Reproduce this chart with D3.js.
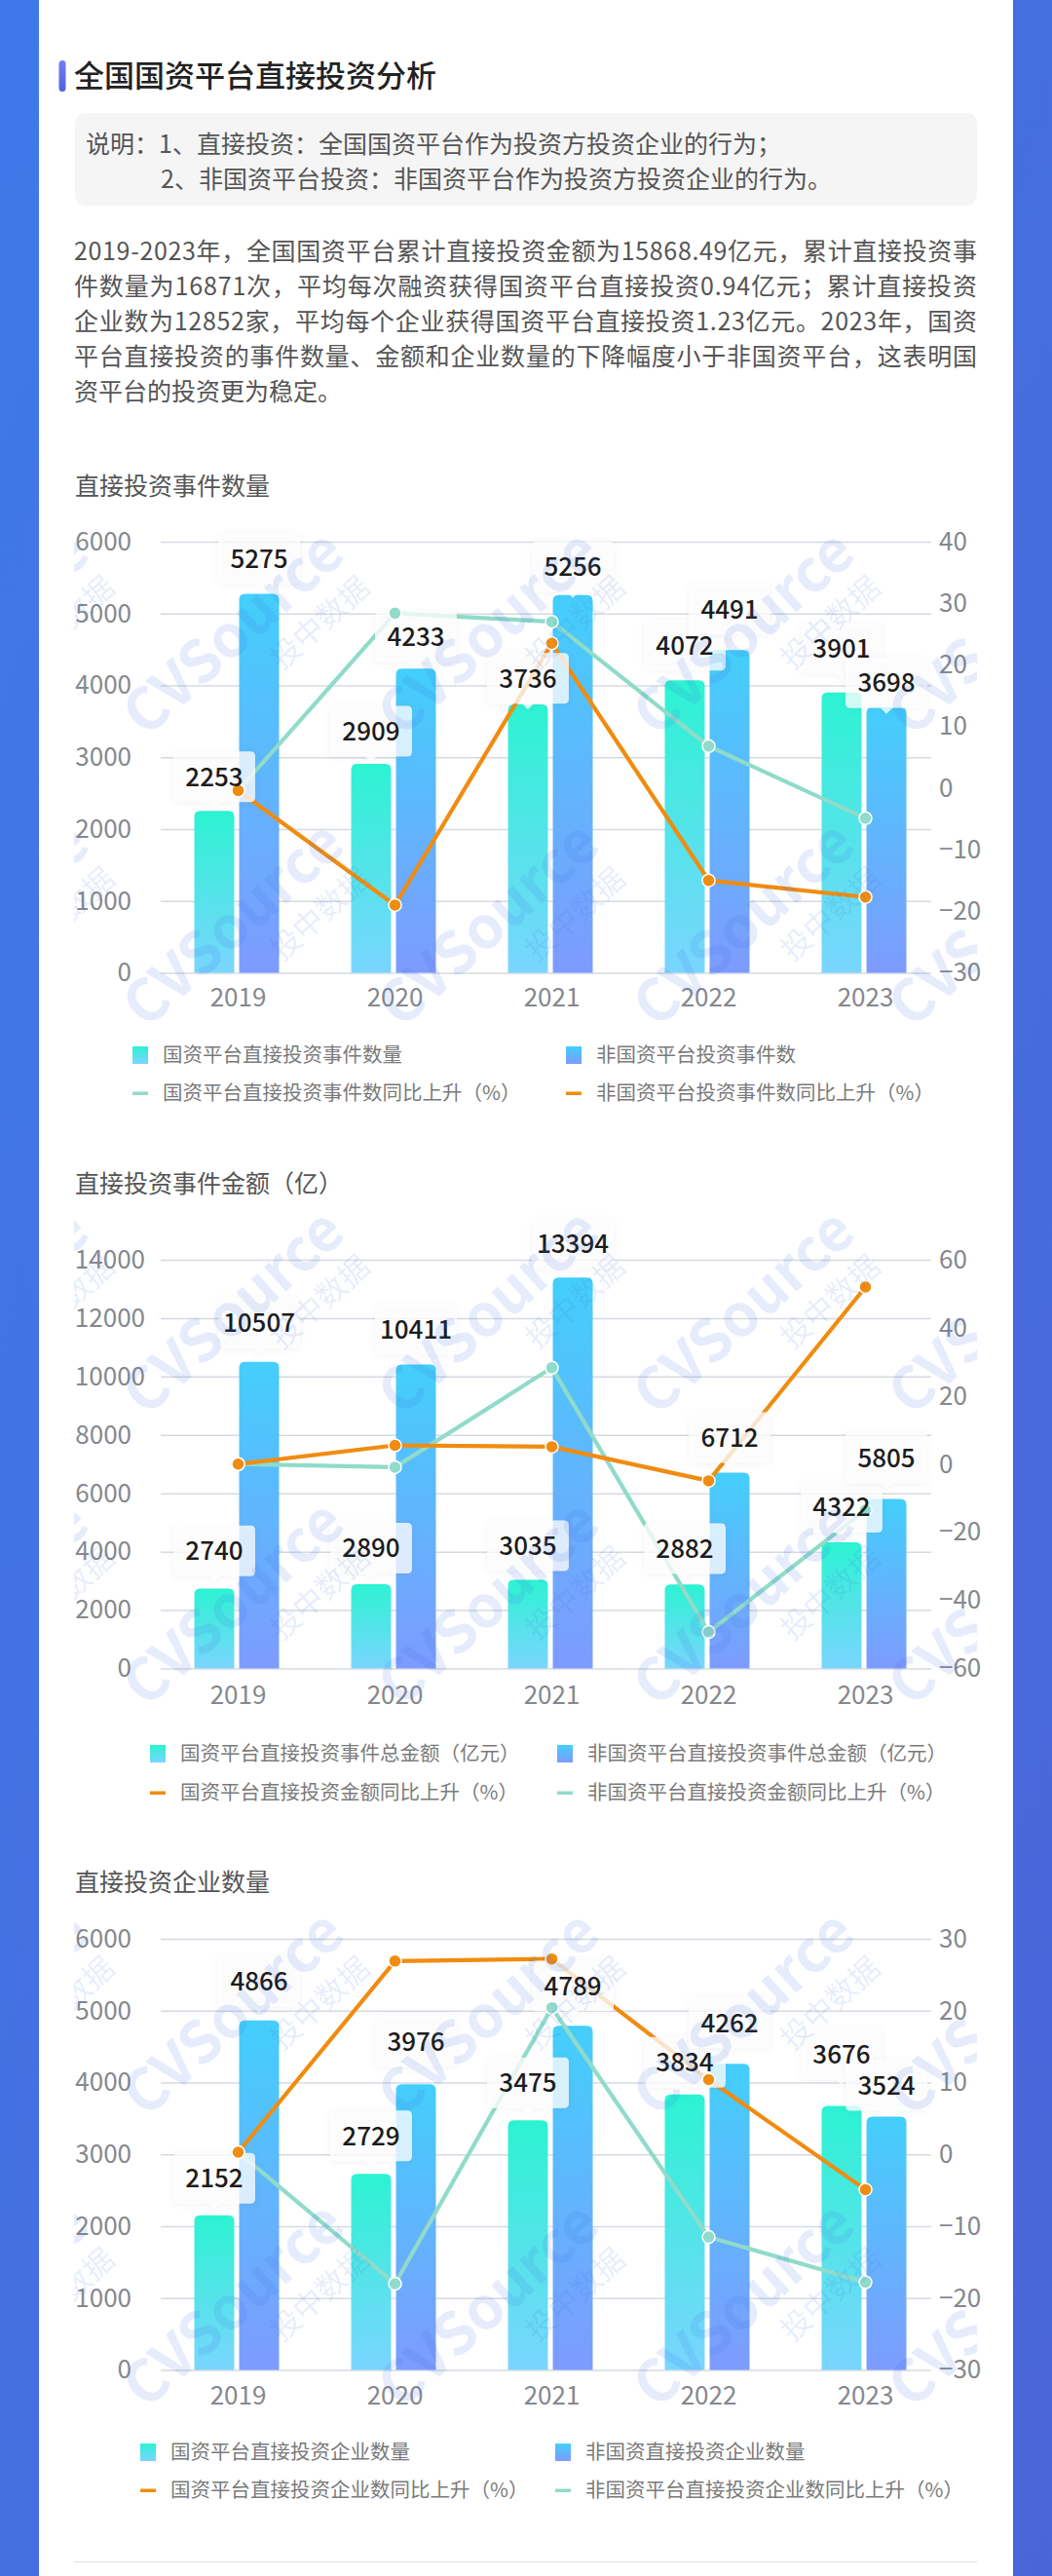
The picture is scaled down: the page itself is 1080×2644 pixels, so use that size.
<!DOCTYPE html>
<html>
<head>
<meta charset="utf-8">
<script src="https://cdn.jsdelivr.net/npm/d3@7"></script>
<style>
  html, body { margin: 0; padding: 0; background: #fff; }
  svg { display: block; }
  text { font-family: "Noto Sans CJK SC", "Noto Sans", sans-serif; }
  .axis text { fill: #85888e; font-size: 26px; font-weight: 400; }
  .axis line { stroke: #d6dae1; stroke-width: 1.5; }
  .axis path { display: none; }
  .legend text { fill: #7a7a7a; font-size: 20.5px; font-weight: 400; }
</style>
</head>
<body>
<script>
// Data
var years = ["2019", "2020", "2021", "2022", "2023"];

var eventSoe = [2253, 2909, 3736, 4072, 3901];
var eventNon = [5275, 4233, 5256, 4491, 3698];
var eventSoeYoy = [-0.4, 28.4, 27, 6.8, -4.9];
var eventNonYoy = [-0.4, -19, 23.5, -15, -17.7];
var eventLeftTicks = [0, 1000, 2000, 3000, 4000, 5000, 6000];
var eventRightTicks = [-30, -20, -10, 0, 10, 20, 30, 40];

var amountSoe = [2740, 2890, 3035, 2882, 4322];
var amountNon = [10507, 10411, 13394, 6712, 5805];
var amountSoeYoy = [0, 5.5, 5.1, -4.9, 52];
var amountNonYoy = [0, -0.9, 28.3, -49.3, -13.5];
var amountLeftTicks = [0, 2000, 4000, 6000, 8000, 10000, 12000, 14000];
var amountRightTicks = [-60, -40, -20, 0, 20, 40, 60];

var firmSoe = [2152, 2729, 3475, 3834, 3676];
var firmNon = [4866, 3976, 4789, 4262, 3524];
var firmSoeYoy = [0.3, 26.9, 27.2, 10.4, -4.9];
var firmNonYoy = [0.3, -18, 20.4, -11.5, -17.8];
var firmLeftTicks = [0, 1000, 2000, 3000, 4000, 5000, 6000];
var firmRightTicks = [-30, -20, -10, 0, 10, 20, 30];

var noteLines = [
  "说明：1、直接投资：全国国资平台作为投资方投资企业的行为；",
  "2、非国资平台投资：非国资平台作为投资方投资企业的行为。"
];
var bodyLines = [
  "2019-2023年，全国国资平台累计直接投资金额为15868.49亿元，累计直接投资事",
  "件数量为16871次，平均每次融资获得国资平台直接投资0.94亿元；累计直接投资",
  "企业数为12852家，平均每个企业获得国资平台直接投资1.23亿元。2023年，国资",
  "平台直接投资的事件数量、金额和企业数量的下降幅度小于非国资平台，这表明国",
  "资平台的投资更为稳定。"
];

var svgWidth = 1080;
var svgHeight = 2644;
var teal = "#90dbc9";
var orange = "#f08c10";

var svg = d3.select("body").append("svg")
  .attr("width", svgWidth)
  .attr("height", svgHeight);

var defs = svg.append("defs");

function addGradient(id, stops, x2, y2) {
  var g = defs.append("linearGradient").attr("id", id)
    .attr("x1", 0).attr("y1", 0).attr("x2", x2).attr("y2", y2);
  stops.forEach(function(s, i) {
    g.append("stop").attr("offset", i / (stops.length - 1)).attr("stop-color", s);
  });
}
addGradient("soeBar", ["#2cf3d2", "#7ad5ff"], 0, 1);
addGradient("nonBar", ["#43cffb", "#7e9bff"], 0, 1);
addGradient("pageBg", ["#3f79e9", "#4a65d8"], 1, 1);
addGradient("titleBar", ["#7480f2", "#4f60df"], 0, 1);

defs.append("clipPath").attr("id", "markClip")
  .append("rect").attr("x", 76).attr("y", 0).attr("width", 927).attr("height", svgHeight);

// Page frame
svg.append("rect").attr("width", svgWidth).attr("height", svgHeight).attr("fill", "url(#pageBg)");
svg.append("rect").attr("x", 40).attr("width", 1000).attr("height", svgHeight).attr("fill", "#fff");

// Heading and text block
svg.append("rect").attr("x", 60.5).attr("y", 62).attr("width", 7).attr("height", 32).attr("rx", 3.5)
  .attr("fill", "url(#titleBar)");
svg.append("text").attr("x", 76).attr("y", 78).attr("dy", "0.36em")
  .attr("font-size", 31).attr("font-weight", 500).attr("fill", "#222")
  .text("全国国资平台直接投资分析");

svg.append("rect").attr("x", 77).attr("y", 116).attr("width", 926).attr("height", 95).attr("rx", 10)
  .attr("fill", "#f5f5f5");
svg.selectAll(".note").data(noteLines).enter().append("text")
  .attr("class", "note")
  .attr("x", (d, i) => i == 0 ? 88 : 165)
  .attr("y", (d, i) => 148 + i * 36)
  .attr("dy", "0.36em")
  .attr("font-size", 25).attr("fill", "#555")
  .text(d => d);

svg.selectAll(".body").data(bodyLines).enter().append("text")
  .attr("class", "body")
  .attr("x", 76)
  .attr("y", (d, i) => 258 + i * 36)
  .attr("dy", "0.36em")
  .attr("font-size", 25).attr("fill", "#555")
  .attr("textLength", (d, i) => i < 4 ? 927 : null)
  .text(d => d);

function drawChart(c) {
  var x0 = d3.scaleBand().domain(years).range([164, 969]);
  var x1 = d3.scaleBand().domain([0, 1]).range([0, 87]).paddingInner(0.11);
  var y = d3.scaleLinear().domain(d3.extent(c.leftTicks)).range([c.bottom, c.top]);
  var yRight = d3.scaleLinear().domain(d3.extent(c.rightTicks)).range([c.bottom, c.top]);
  var barX = (i, s) => x0(years[i]) + x0.bandwidth() / 2 - 45 + x1(s);
  var centre = i => x0(years[i]) + x0.bandwidth() / 2;

  var g = svg.append("g");

  g.append("text").attr("x", 77).attr("y", c.titleY).attr("dy", "0.36em")
    .attr("font-size", 25).attr("fill", "#555").text(c.title);

  // Axes
  g.append("g").attr("class", "axis")
    .attr("transform", "translate(165,0)")
    .call(d3.axisLeft(y).tickValues(c.leftTicks).tickFormat(d3.format("d")).tickSize(-791).tickPadding(30))
    .selectAll("text").attr("dx", d => d >= 10000 ? 14 : 0);

  g.append("g").attr("class", "axis")
    .attr("transform", "translate(956,0)")
    .call(d3.axisRight(yRight).tickValues(c.rightTicks).tickSize(0).tickPadding(8));

  g.append("g").attr("class", "axis")
    .attr("transform", "translate(0," + c.bottom + ")")
    .call(d3.axisBottom(x0).tickSize(0).tickPadding(c.xPad));

  // Bars
  [[c.soe, "soeBar"], [c.non, "nonBar"]].forEach(function(b, s) {
    g.selectAll(".bar" + s).data(b[0]).enter().append("path")
      .attr("class", "bar" + s)
      .attr("fill", "url(#" + b[1] + ")")
      .attr("d", function(d, i) {
        var l = barX(i, s), w = x1.bandwidth(), t = y(d), r = 6;
        return "M" + l + "," + c.bottom + "V" + (t + r) + "Q" + l + "," + t + " " + (l + r) + "," + t +
          "H" + (l + w - r) + "Q" + (l + w) + "," + t + " " + (l + w) + "," + (t + r) + "V" + c.bottom + "Z";
      });
  });

  // Lines
  var line = d3.line().x((d, i) => centre(i)).y(d => yRight(d));
  c.lines.forEach(function(l) {
    g.append("path").attr("d", line(l.values))
      .attr("fill", "none").attr("stroke", l.color).attr("stroke-width", 4.2).attr("stroke-linejoin", "round");
  });

  // Value labels
  var labels = [];
  c.soe.forEach(function(d, i) { labels.push({ v: d, x: barX(i, 0) + x1.bandwidth() / 2, lift: c.soeLift[i] }); });
  c.non.forEach(function(d, i) { labels.push({ v: d, x: barX(i, 1) + x1.bandwidth() / 2, lift: c.nonLift[i] }); });

  g.selectAll(".tip").data(labels).enter().append("path")
    .attr("class", "tip")
    .attr("fill", "#fff").attr("fill-opacity", 0.78)
    .style("filter", "drop-shadow(0 1px 3px rgba(60,70,90,0.08))")
    .attr("d", function(d) {
      var cy = y(d.v) - d.lift, l = d.x - 42, r = d.x + 42, t = cy - 26, b = cy + 26, k = 5;
      return "M" + (l + k) + "," + t + "H" + (r - k) + "Q" + r + "," + t + " " + r + "," + (t + k) +
        "V" + (b - k) + "Q" + r + "," + b + " " + (r - k) + "," + b +
        "H" + (d.x + 6) + "L" + d.x + "," + (b + 6) + "L" + (d.x - 6) + "," + b +
        "H" + (l + k) + "Q" + l + "," + b + " " + l + "," + (b - k) +
        "V" + (t + k) + "Q" + l + "," + t + " " + (l + k) + "," + t + "Z";
    });

  // Markers sit above the label boxes
  c.lines.forEach(function(l) {
    g.selectAll(null).data(l.values).enter().append("circle")
      .attr("cx", (d, i) => centre(i))
      .attr("cy", d => yRight(d))
      .attr("r", 6.5)
      .attr("fill", l.color).attr("stroke", "#fff").attr("stroke-width", 1.5);
  });

  g.selectAll(".value").data(labels).enter().append("text")
    .attr("class", "value")
    .attr("x", d => d.x)
    .attr("y", d => y(d.v) - d.lift)
    .attr("dy", "0.36em")
    .attr("text-anchor", "middle")
    .attr("font-size", 26).attr("font-weight", 500).attr("fill", "#1c1c1c")
    .text(d => d.v);

  // Legend
  var legend = g.append("g").attr("class", "legend");
  c.legend.forEach(function(l, i) {
    var sx = c.legendX[i % 2], ly = c.legendY[Math.floor(i / 2)];
    if (i < 2) {
      legend.append("rect").attr("x", sx).attr("y", ly - 9).attr("width", 16).attr("height", 18)
        .attr("fill", "url(#" + l.fill + ")");
    } else {
      legend.append("rect").attr("x", sx).attr("y", ly - 1.5).attr("width", 16).attr("height", 3.5)
        .attr("fill", l.fill);
    }
    legend.append("text").attr("x", sx + 31).attr("y", ly).attr("dy", "0.36em").text(l.text);
  });

  // Watermark on top of everything, clipped to the text column
  var marks = svg.append("g").attr("clip-path", "url(#markClip)");
  c.markRows.forEach(function(ry) {
    d3.range(-1, 4).forEach(function(col) {
      var m = marks.append("g").attr("transform", "translate(" + (150 + col * 262) + "," + ry + ") rotate(-42)");
      m.append("text").attr("font-size", 60).attr("font-weight", 700)
        .attr("font-family", "'Liberation Sans', sans-serif")
        .attr("fill", "#3f6fe0").attr("fill-opacity", 0.13).text("CVSource");
      m.append("text").attr("x", 150).attr("y", 42).attr("font-size", 31)
        .attr("fill", "#3f6fe0").attr("fill-opacity", 0.13).text("投中数据");
    });
  });
}

drawChart({
  title: "直接投资事件数量", titleY: 499, top: 556, bottom: 998.5, xPad: 16,
  soe: eventSoe, non: eventNon,
  soeLift: [35, 33.5, 26.6, 36, 45], nonLift: [36, 32.6, 29, 42, 25],
  leftTicks: eventLeftTicks, rightTicks: eventRightTicks,
  lines: [{ values: eventSoeYoy, color: teal }, { values: eventNonYoy, color: orange }],
  legendX: [136, 581], legendY: [1083, 1122],
  legend: [
    { fill: "soeBar", text: "国资平台直接投资事件数量" },
    { fill: "nonBar", text: "非国资平台投资事件数" },
    { fill: teal, text: "国资平台直接投资事件数同比上升（%）" },
    { fill: orange, text: "非国资平台投资事件数同比上升（%）" }
  ],
  markRows: [758, 1057]
});

drawChart({
  title: "直接投资事件金额（亿）", titleY: 1215, top: 1293, bottom: 1712.5, xPad: 18,
  soe: amountSoe, non: amountNon,
  soeLift: [38.6, 37, 35, 36.7, 36], nonLift: [40, 36, 34.4, 36, 42],
  leftTicks: amountLeftTicks, rightTicks: amountRightTicks,
  lines: [{ values: amountNonYoy, color: teal }, { values: amountSoeYoy, color: orange }],
  legendX: [154, 572], legendY: [1800, 1840],
  legend: [
    { fill: "soeBar", text: "国资平台直接投资事件总金额（亿元）" },
    { fill: "nonBar", text: "非国资平台直接投资事件总金额（亿元）" },
    { fill: orange, text: "国资平台直接投资金额同比上升（%）" },
    { fill: teal, text: "非国资平台直接投资金额同比上升（%）" }
  ],
  markRows: [1455, 1754]
});

drawChart({
  title: "直接投资企业数量", titleY: 1932, top: 1990, bottom: 2432.5, xPad: 17,
  soe: firmSoe, non: firmNon,
  soeLift: [38, 39, 38.5, 33, 53], nonLift: [40, 44, 41, 42, 32],
  leftTicks: firmLeftTicks, rightTicks: firmRightTicks,
  lines: [{ values: firmNonYoy, color: teal }, { values: firmSoeYoy, color: orange }],
  legendX: [144, 570], legendY: [2517, 2556],
  legend: [
    { fill: "soeBar", text: "国资平台直接投资企业数量" },
    { fill: "nonBar", text: "非国资直接投资企业数量" },
    { fill: orange, text: "国资平台直接投资企业数同比上升（%）" },
    { fill: teal, text: "非国资平台直接投资企业数同比上升（%）" }
  ],
  markRows: [2175, 2474]
});

// Closing rule
svg.append("line").attr("x1", 76).attr("x2", 1003).attr("y1", 2629.5).attr("y2", 2629.5)
  .attr("stroke", "#e6e6e6").attr("stroke-width", 1.5);
</script>
</body>
</html>
